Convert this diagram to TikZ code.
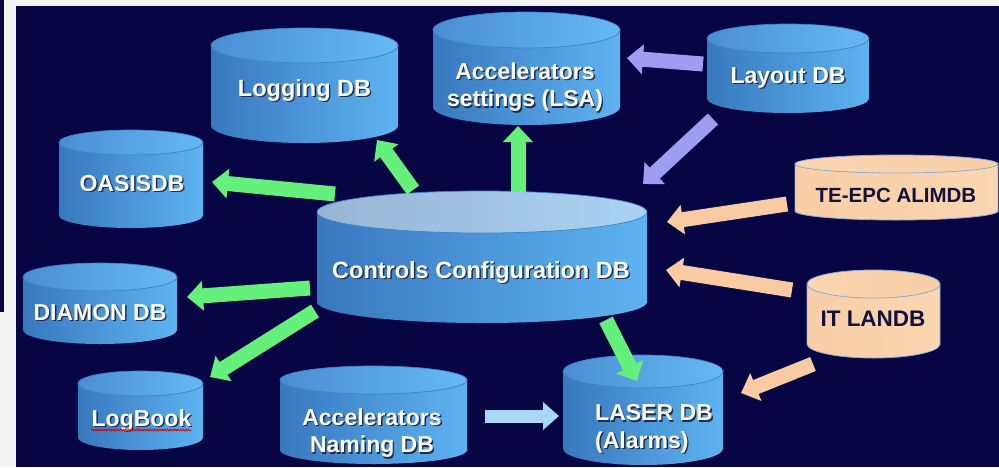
\documentclass[tikz,border=0pt]{standalone}
\usepackage{fontspec}
\setmainfont{Liberation Sans}
\usetikzlibrary{arrows.meta,decorations.pathmorphing}

\definecolor{paper}{HTML}{F3F3F3}
\definecolor{navy}{HTML}{070544}
\definecolor{bodyL}{HTML}{3878BE}
\definecolor{bodyR}{HTML}{5EB3F1}
\definecolor{capL}{HTML}{4A8ED2}
\definecolor{capR}{HTML}{66B9F4}
\definecolor{capedge}{HTML}{3C82C9}
\definecolor{ctrlcapL}{HTML}{98B4D4}
\definecolor{ctrlcapR}{HTML}{AAD3F3}
\definecolor{peachL}{HTML}{F8CEA6}
\definecolor{peachR}{HTML}{FAD6B2}
\definecolor{peachedge}{HTML}{86AEDA}
\definecolor{txtshade}{HTML}{242B48}
\definecolor{darktxt}{HTML}{12123A}
\definecolor{arrgreen}{HTML}{64F07A}
\definecolor{arrlilac}{HTML}{A09CF0}
\definecolor{arrpeach}{HTML}{F8CBA2}
\definecolor{arrsky}{HTML}{A8D8F6}

% white label with a small dark drop shadow
\newcommand\shtxt[1]{\makebox[0pt][l]{\kern1.4pt\raisebox{-1.4pt}{\textcolor{txtshade}{#1}}}#1}

\tikzset{
  dbframe/.style={shape=rectangle, inner sep=0pt, outer sep=0pt},
  blue body/.style={left color=bodyL, right color=bodyR},
  blue rim/.style={draw=none},
  blue cap/.style={left color=capL, right color=capR, draw=capedge, line width=0.7pt},
  ctrl body/.style={left color=bodyL, right color=bodyR},
  ctrl rim/.style={draw=none},
  ctrl cap/.style={left color=ctrlcapL, right color=ctrlcapR, draw=capedge, line width=0.7pt},
  peach body/.style={left color=peachL, right color=peachR},
  peach rim/.style={draw=peachedge, line width=0.8pt},
  peach cap/.style={left color=peachR, right color=peachL, draw=peachedge, line width=0.8pt},
  dbtext/.style={text=white, inner sep=0pt, align=center,
    font=\fontsize{23}{27.5}\selectfont\bfseries},
  bigtext/.style={dbtext, font=\fontsize{23.5}{28}\selectfont\bfseries},
  dbdark/.style={text=darktxt, inner sep=0pt, align=center,
    font=\fontsize{22.5}{27}\selectfont\bfseries},
  fat/.style={line width=15pt, -{Triangle[length=16pt,width=29pt]}},
  flowgreen/.style={fat, draw=arrgreen, color=arrgreen},
  flowlilac/.style={fat, draw=arrlilac, color=arrlilac},
  flowpeach/.style={fat, draw=arrpeach, color=arrpeach},
  flowsky/.style={line width=13pt, -{Triangle[length=16pt,width=27pt]}, color=arrsky},
}

% database cylinder: name, left, right, top, bottom, cap radius, palette
\newcommand\dbcyl[7]{%
  \pgfmathsetmacro\cylcx{(#2+#3)/2}%
  \pgfmathsetmacro\cylcy{(#4+#5)/2}%
  \pgfmathsetmacro\cylrx{(#3-#2)/2}%
  \pgfmathsetmacro\cylw{#3-#2}%
  \pgfmathsetmacro\cylh{#5-#4}%
  \pgfmathsetmacro\cylt{#4+#6}%
  \pgfmathsetmacro\cylb{#5-#6}%
  \shade[#7 body] (#2,\cylt) rectangle (#3,\cylb);
  \shade[#7 body] (\cylcx,\cylb) ellipse [x radius=\cylrx, y radius=#6];
  \draw[#7 rim] (#2,\cylt) -- (#2,\cylb)
    arc [start angle=180, end angle=0, x radius=\cylrx, y radius=#6] -- (#3,\cylt);
  \shade[#7 cap] (\cylcx,\cylt) ellipse [x radius=\cylrx, y radius=#6];
  \node[dbframe, minimum width=\cylw pt, minimum height=\cylh pt] (#1) at (\cylcx,\cylcy) {};
}

\begin{document}
\begin{tikzpicture}[x=1pt, y=-1pt]
\useasboundingbox (0,0) rectangle (999,467);
\fill[paper] (0,0) rectangle (999,467);
\fill[navy] (16,6) rectangle (999,467);
\fill[navy] (0,0) rectangle (4,312);

% databases
\dbcyl{logging}{211}{398}{28}{143}{17.5}{blue}
\dbcyl{lsa}{433}{620}{12}{125}{18}{blue}
\dbcyl{layout}{707}{869}{24}{113}{14.5}{blue}
\dbcyl{oasis}{59}{203}{130}{228}{12.5}{blue}
\dbcyl{ctrl}{317}{647}{191}{323}{21}{ctrl}
\dbcyl{teepc}{795}{998}{155}{220}{9}{peach}
\dbcyl{itlan}{807}{940}{270}{358}{14}{peach}
\dbcyl{diamon}{23}{177}{263}{344}{14}{blue}
\dbcyl{logbook}{78}{203}{371}{450}{12.5}{blue}
\dbcyl{naming}{280}{467}{366}{464}{14}{blue}
\dbcyl{laser}{563}{723}{355}{465}{16.5}{blue}

% labels
\node[bigtext, anchor=base] (logging-t) at (304.5,96) {\shtxt{Logging DB}};
\node[dbtext] (lsa-t) at (525,88) {\shtxt{Accelerators}\\\shtxt{settings (LSA)}};
\node[dbtext, anchor=base] (layout-t) at (788,83) {\shtxt{Layout DB}};
\node[dbtext, anchor=base] (oasis-t) at (132,191) {\shtxt{OASISDB}};
\node[bigtext, anchor=base] (ctrl-t) at (481,278) {\shtxt{Controls Configuration DB}};
\node[dbdark, anchor=base, font=\fontsize{20.5}{24}\selectfont\bfseries] (teepc-t) at (896,202) {TE-EPC ALIMDB};
\node[dbdark, anchor=base] (itlan-t) at (873,326) {IT LANDB};
\node[dbtext, anchor=base] (diamon-t) at (100,320) {\shtxt{DIAMON DB}};
\node[dbtext, anchor=base] (logbook-t) at (141.5,426) {\shtxt{LogBook}};
\node[dbtext] (naming-t) at (372,434) {\shtxt{Accelerators}\\\shtxt{Naming DB}};
\node[dbtext, align=left, anchor=west] (laser-t) at (595,429.5) {\shtxt{LASER DB}\\\shtxt{(Alarms)}};

% spell-check squiggle under LogBook
\draw[red!85!black, line width=0.8pt, decorate,
  decoration={snake, amplitude=0.9pt, segment length=2.6pt}]
  ([yshift=-4pt]logbook-t.base west) -- ([yshift=-4pt]logbook-t.base east);

% data flows out of the controls configuration
\draw[flowgreen] ([shift={(18,3)}]ctrl.north west) -- ([shift={(9,3)}]oasis.east);
\draw[flowgreen] ([shift={(-69,-1)}]ctrl.north) -- ([shift={(72.5,-3)}]logging.south);
\draw[flowgreen] ([shift={(36,1)}]ctrl.north) -- ([shift={(-8.5,1)}]lsa.south);
\draw[flowgreen] ([shift={(-7,31)}]ctrl.west) -- ([shift={(10,-6.5)}]diamon.east);
\draw[flowgreen] ([shift={(-2,-12)}]ctrl.south west) -- ([shift={(7,6)}]logbook.north east);
\draw[flowgreen] ([shift={(124,-3)}]ctrl.south) -- ([shift={(-6,26)}]laser.north);

% layout feeds
\draw[flowlilac] ([shift={(-4,-4.5)}]layout.west) -- ([shift={(7,-10.5)}]lsa.east);
\draw[flowlilac] ([shift={(6,6)}]layout.south west) -- ([shift={(-4,-7)}]ctrl.north east);

% external sources
\draw[flowpeach] ([shift={(-8,-16)}]teepc.south west) -- ([shift={(20,-35)}]ctrl.east);
\draw[flowpeach] ([shift={(-15,-24)}]itlan.west) -- ([shift={(19,13)}]ctrl.east);
\draw[flowpeach] ([shift={(6,6)}]itlan.south west) -- ([shift={(18,-17)}]laser.east);

% naming to alarms
\draw[flowsky] ([shift={(18,1)}]naming.east) -- ([shift={(-4,6)}]laser.west);
\end{tikzpicture}
\end{document}
